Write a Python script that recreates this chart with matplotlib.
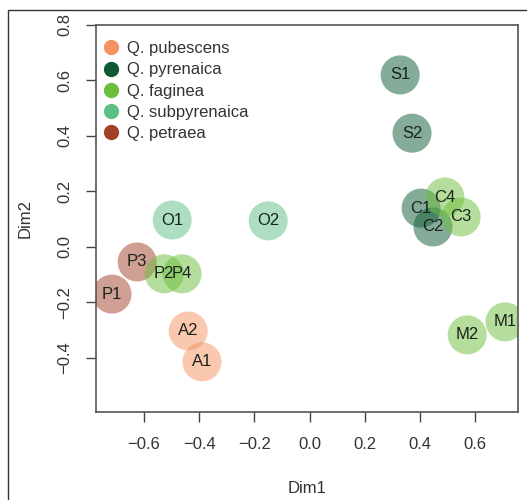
import numpy as np
import matplotlib.pyplot as plt
from matplotlib.lines import Line2D
from matplotlib.patches import Rectangle

plt.rcParams['font.family'] = ['Liberation Sans', 'DejaVu Sans']

# names of the samples and their coordinates on the first two dimensions
labels = ['S1', 'S2', 'C1', 'C2', 'C4', 'C3', 'M2', 'M1',
          'O1', 'O2', 'P3', 'P1', 'P2', 'P4', 'A2', 'A1']
dim1 = [0.328, 0.371, 0.404, 0.447, 0.49, 0.549, 0.571, 0.708,
        -0.498, -0.150, -0.625, -0.716, -0.527, -0.462, -0.440, -0.390]
dim2 = [0.62, 0.41, 0.14, 0.072, 0.18, 0.108, -0.317, -0.27,
        0.097, 0.094, -0.054, -0.17, -0.097, -0.097, -0.303, -0.414]
species = ['pyr', 'pyr', 'pyr', 'pyr', 'fag', 'fag', 'fag', 'fag',
           'sub', 'sub', 'pet', 'pet', 'fag', 'fag', 'pub', 'pub']

sp_keys = ['pub', 'pyr', 'fag', 'sub', 'pet']
sp_names = ['Q. pubescens', 'Q. pyrenaica', 'Q. faginea', 'Q. subpyrenaica', 'Q. petraea']
sp_colors = ['#f4935f', '#0b5a32', '#6cbf3c', '#5cbf86', '#a3402a']
col = dict(zip(sp_keys, sp_colors))

fig = plt.figure(figsize=(5.27, 5.0), dpi=100)
# outer frame round the whole picture
fig.patches.append(Rectangle((8 / 527, -0.1), 1.2, 1 - 10 / 500 + 0.1,
                             transform=fig.transFigure, fill=False,
                             edgecolor='#333333', linewidth=1.0))
ax = fig.add_axes([96 / 527, 1 - 412 / 500, (518 - 96) / 527, (412 - 25) / 500])

for x, y, lab, s in zip(dim1, dim2, labels, species):
    ax.scatter(x, y, s=790, color=col[s], alpha=0.5, edgecolors='none', zorder=2)
for x, y, lab in zip(dim1, dim2, labels):
    ax.text(x, y, lab, ha='center', va='center', fontsize=12, color='#1a221c', zorder=3)

ax.set_xlim(-0.774, 0.755)
ax.set_ylim(-0.595, 0.80)
ax.set_xticks([-0.6, -0.4, -0.2, 0.0, 0.2, 0.4, 0.6])
ax.set_yticks([-0.4, -0.2, 0.0, 0.2, 0.4, 0.6, 0.8])
ax.set_xticklabels(['\u22120.6', '\u22120.4', '\u22120.2', '0.0', '0.2', '0.4', '0.6'])
ax.set_yticklabels(['\u22120.4', '\u22120.2', '0.0', '0.2', '0.4', '0.6', '0.8'],
                   rotation=90, va='center')
ax.tick_params(direction='out', length=7, width=1, color='#444444',
               labelsize=12, labelcolor='#333333')
ax.tick_params(axis='x', pad=11)
ax.tick_params(axis='y', pad=10)
for sp in ax.spines.values():
    sp.set_color('#555555')
    sp.set_linewidth(1.2)

ax.set_xlabel('Dim1', fontsize=12, color='#333333', labelpad=21)
ax.set_ylabel('Dim2', fontsize=12, color='#333333', labelpad=18)

handles = [Line2D([], [], marker='o', linestyle='none', markersize=11,
                  markerfacecolor=c, markeredgecolor='none') for c in sp_colors]
ax.legend(handles, sp_names, loc='upper left', bbox_to_anchor=(-0.005, 0.984),
          frameon=False, fontsize=12, labelspacing=0.37, handletextpad=0.6,
          borderaxespad=0.2, handlelength=0.8, labelcolor='#333333')

fig.savefig('out.png', dpi=100)
